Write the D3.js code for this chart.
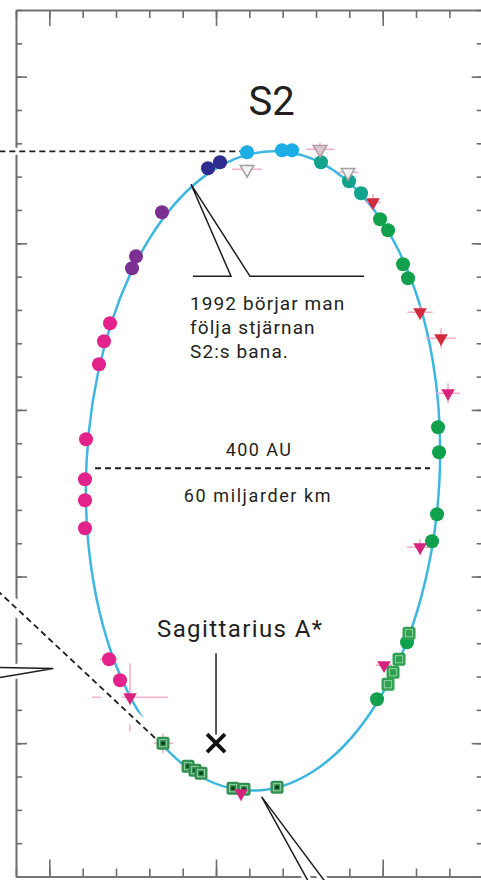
<!DOCTYPE html>
<meta charset="utf-8">
<style>
body { margin: 0; background: #fff; }
svg { display: block; }
.frame path, .frame line { stroke: #6e6e6e; stroke-width: 1.6; fill: none; }
.orbit { fill: none; stroke: #3db7e0; stroke-width: 2.5; }
.err { stroke: #f2a2c4; stroke-width: 1.6; stroke-opacity: 0.85; }
.halo { stroke: #fff; fill: none; }
.ink { stroke: #1e1e1e; fill: none; stroke-width: 1.5; }
.dash { stroke: #1e1e1e; fill: none; stroke-width: 1.8; stroke-dasharray: 6 4; }
text { font-family: Roboto, sans-serif; fill: #231f20; }
</style>
<title>S2</title>
<body>
<svg width="481" height="880"></svg>
<script src="https://d3js.org/d3.v7.min.js"></script>
<script>

// positions in arcsec, Sgr A* at origin
var xTicks = d3.range(-6, 9).map(function(i) { return i / 100; });
var xMajorTicks = [-0.05, 0, 0.05];
var yTicks = d3.range(-4, 23).map(function(i) { return i / 100; });
var yMajorTicks = [0, 0.05, 0.1, 0.15, 0.2];

// fitted orbit: centre, [semi-minor, semi-major], tilt in degrees
var orbitCenter = [0.0141, 0.0817];
var orbitAxes = [0.0530, 0.0960];
var orbitTilt = 2.8;

var navyPts = [[-0.0024, 0.1725], [0.0012, 0.1743]];
var purplePts = [[-0.0162, 0.1593], [-0.0240, 0.1461], [-0.0252, 0.1425]];
var magentaPts = [[-0.0318, 0.1260], [-0.0336, 0.1206], [-0.0351, 0.1137], [-0.0390, 0.0912],
                  [-0.0393, 0.0792], [-0.0393, 0.0729], [-0.0393, 0.0645], [-0.0321, 0.0252],
                  [-0.0288, 0.0189]];
var cyanPts = [[0.0093, 0.1773], [0.0198, 0.1779], [0.0228, 0.1779]];
var tealPts = [[0.0315, 0.1743], [0.0399, 0.1686], [0.0435, 0.1650]];
var greenPts = [[0.0492, 0.1572], [0.0516, 0.1539], [0.0561, 0.1437], [0.0576, 0.1395],
                [0.0666, 0.0948], [0.0669, 0.0873], [0.0663, 0.0687], [0.0648, 0.0606],
                [0.0573, 0.0303], [0.0483, 0.0132]];

// squares (later data): rising branch and periapse passage
var riseSquares = [[0.0579, 0.0330], [0.0549, 0.0252], [0.0531, 0.0213], [0.0516, 0.0177]];
var periSquares = [[-0.0159, 0.0000], [-0.0084, -0.0069], [-0.0063, -0.0081], [-0.0045, -0.0090],
                   [0.0051, -0.0135], [0.0084, -0.0138], [0.0183, -0.0132]];

// triangles: [x, y, xErr, yErr]
var greyTris = [[0.0093, 0.1722, 0.0045, 0.0015], [0.0396, 0.1713, 0.0030, 0.0000]];
var mauveTris = [[0.0312, 0.1782, 0.0042, 0.0020]];
var redTris = [[0.0471, 0.1623, 0.0023, 0.0025], [0.0612, 0.1293, 0.0038, 0.0021],
               [0.0675, 0.1215, 0.0045, 0.0030]];
var pinkTris = [[0.0696, 0.1050, 0.0036, 0.0030], [0.0612, 0.0588, 0.0039, 0.0025],
                [0.0504, 0.0234, 0.0024, 0.0000], [-0.0258, 0.0138, 0.0114, 0.0102],
                [0.0075, -0.0150, 0.0015, 0.0024]];
// extra error crosses on round/square points: [x, y, xErr, yErr]
var pointErrs = [[-0.0321, 0.0252, 0.0027, 0.0015], [-0.0159, 0.0000, 0.0030, 0.0030]];

// annotation anchors
var topDash = [[-0.0680, 0.1776], [0.0072, 0.1776]];
var midDash = [[-0.0363, 0.0825], [0.0642, 0.0825]];
var diagDash = [[-0.0678, 0.0479], [-0.0177, 0.0010]];
var topCallout = [[-0.0069, 0.1401], [0.0045, 0.1401], [-0.0075, 0.1677], [0.0102, 0.1401], [0.0444, 0.1401]];
var leftCallout = [[-0.0678, 0.0228], [-0.0488, 0.0224], [-0.0678, 0.0192]];
var bottomCallout = [[0.0277, -0.0415], [0.0137, -0.0161], [0.0327, -0.0415]];
var sgrPointer = [[0, 0.0270], [0, 0.0026]];
var sgrPos = [0, 0];

var svg = d3.select("svg");

var x = d3.scaleLinear().domain([-0.06, 0.08]).range([16, 482.7]);
var y = d3.scaleLinear().domain([-0.04, 0.22]).range([876.5, 10]);

// frame with inward ticks on all four sides
function edge(axis, tr, vals, size) {
  var g = svg.append("g").attr("class", "frame").attr("transform", tr)
    .call(axis.tickValues(vals).tickSize(size).tickSizeOuter(0).tickFormat(""));
  g.selectAll("text").remove();
}
edge(d3.axisBottom(x), "translate(0," + y(0.22) + ")", xTicks, 8);
edge(d3.axisBottom(x), "translate(0," + y(0.22) + ")", xMajorTicks, 16);
edge(d3.axisTop(x), "translate(0," + y(-0.04) + ")", xTicks, 8);
edge(d3.axisTop(x), "translate(0," + y(-0.04) + ")", xMajorTicks, 17);
edge(d3.axisRight(y), "translate(" + x(-0.06) + ",0)", yTicks, 6);
edge(d3.axisRight(y), "translate(" + x(-0.06) + ",0)", yMajorTicks, 11);
edge(d3.axisLeft(y), "translate(" + x(0.08) + ",0)", yTicks, 6);
edge(d3.axisLeft(y), "translate(" + x(0.08) + ",0)", yMajorTicks, 11);

// orbit
var ocx = x(orbitCenter[0]), ocy = y(orbitCenter[1]);
svg.append("ellipse")
    .attr("class", "orbit")
    .attr("cx", ocx)
    .attr("cy", ocy)
    .attr("rx", x(orbitCenter[0] + orbitAxes[0]) - ocx)
    .attr("ry", ocy - y(orbitCenter[1] + orbitAxes[1]))
    .attr("transform", "rotate(" + orbitTilt + "," + ocx + "," + ocy + ")");

// error crosses
var errs = greyTris.concat(mauveTris, redTris, pinkTris, pointErrs);
var eg = svg.append("g").attr("class", "err");
errs.forEach(function(d) {
  if (d[2] > 0) eg.append("line").attr("x1", x(d[0] - d[2])).attr("x2", x(d[0] + d[2]))
      .attr("y1", y(d[1])).attr("y2", y(d[1]));
  if (d[3] > 0) eg.append("line").attr("x1", x(d[0])).attr("x2", x(d[0]))
      .attr("y1", y(d[1] - d[3])).attr("y2", y(d[1] + d[3]));
});

// annotation lines (white halo under them cuts the frame)
var line = d3.line().x(function(d) { return x(d[0]); }).y(function(d) { return y(d[1]); });
function annot(pts, cls, halo) {
  if (halo > 0) svg.append("path").attr("class", "halo").attr("stroke-width", halo).attr("d", line(pts));
  return svg.append("path").attr("class", cls).attr("d", line(pts));
}
annot(topDash, "dash", 7);
annot(diagDash, "dash", 14);
annot(leftCallout, "ink", 8);
annot(bottomCallout, "ink", 8);
annot(midDash, "dash", 0);
annot(topCallout, "ink", 0);

// round points
var circleSets = [
  { color: "#2e2b8f", pts: navyPts },
  { color: "#7b2f90", pts: purplePts },
  { color: "#e3238b", pts: magentaPts },
  { color: "#1badE3", pts: cyanPts },
  { color: "#12a38c", pts: tealPts },
  { color: "#11a14d", pts: greenPts }
];
circleSets.forEach(function(s) {
  svg.append("g").selectAll("circle")
    .data(s.pts)
    .enter().append("circle")
      .attr("cx", function(d) { return x(d[0]); })
      .attr("cy", function(d) { return y(d[1]); })
      .attr("r", 7)
      .attr("fill", s.color);
});

// squares
function squares(pts, dot) {
  var g = svg.append("g").selectAll("g")
    .data(pts)
    .enter().append("g")
      .attr("transform", function(d) { return "translate(" + x(d[0]) + "," + y(d[1]) + ")"; });
  g.append("rect").attr("x", -6.5).attr("y", -6.5).attr("width", 13).attr("height", 13)
      .attr("rx", 2.5).attr("fill", dot ? "#358f52" : "#2fa150");
  g.append("rect").attr("x", -3.6).attr("y", -3.6).attr("width", 7.2).attr("height", 7.2)
      .attr("fill", "none").attr("stroke", "#8fd0a2").attr("stroke-width", 1);
  if (dot) g.append("circle").attr("r", 2).attr("fill", "#06401b");
}
squares(riseSquares, false);
squares(periSquares, true);

// triangles pointing down
var tri = d3.symbol().type(d3.symbolTriangle).size(80);
function triangles(pts, fill, stroke) {
  svg.append("g").selectAll("path")
    .data(pts)
    .enter().append("path")
      .attr("d", tri)
      .attr("transform", function(d) { return "translate(" + x(d[0]) + "," + y(d[1]) + ") rotate(180)"; })
      .attr("fill", fill)
      .attr("stroke", stroke)
      .attr("stroke-width", stroke == "none" ? 0 : 1.5);
}
triangles(greyTris, "#f4f4f4", "#a3a3a3");
triangles(mauveTris, "#dcc6cf", "#b59aa7");
triangles(redTris, "#d42a3e", "none");
triangles(pinkTris, "#d8237e", "none");

// Sagittarius A*
annot(sgrPointer, "ink", 0).attr("stroke", "#555").attr("stroke-width", 1.4);
var sx = x(sgrPos[0]), sy = y(sgrPos[1]);
svg.append("path")
    .attr("d", "M" + (sx - 9) + "," + (sy - 9) + "L" + (sx + 9) + "," + (sy + 9) +
               "M" + (sx - 9) + "," + (sy + 9) + "L" + (sx + 9) + "," + (sy - 9))
    .attr("stroke", "#111")
    .attr("stroke-width", 3.8);

// labels
svg.append("text").attr("x", 271.5).attr("y", 115).attr("text-anchor", "middle")
    .attr("font-size", 40).text("S2");
var note = svg.append("text").attr("font-size", 19).attr("letter-spacing", 1.1);
["1992 börjar man", "följa stjärnan", "S2:s bana."].forEach(function(t, i) {
  note.append("tspan").attr("x", 190).attr("y", 310 + i * 24).text(t);
});
svg.append("text").attr("x", 259).attr("y", 456).attr("text-anchor", "middle")
    .attr("font-size", 18).attr("letter-spacing", 1.4).text("400 AU");
svg.append("text").attr("x", 258).attr("y", 501.5).attr("text-anchor", "middle")
    .attr("font-size", 18).attr("letter-spacing", 1.6).text("60 miljarder km");
svg.append("text").attr("x", 157).attr("y", 637).attr("font-size", 24)
    .attr("letter-spacing", 1.4).text("Sagittarius A*");

</script>
